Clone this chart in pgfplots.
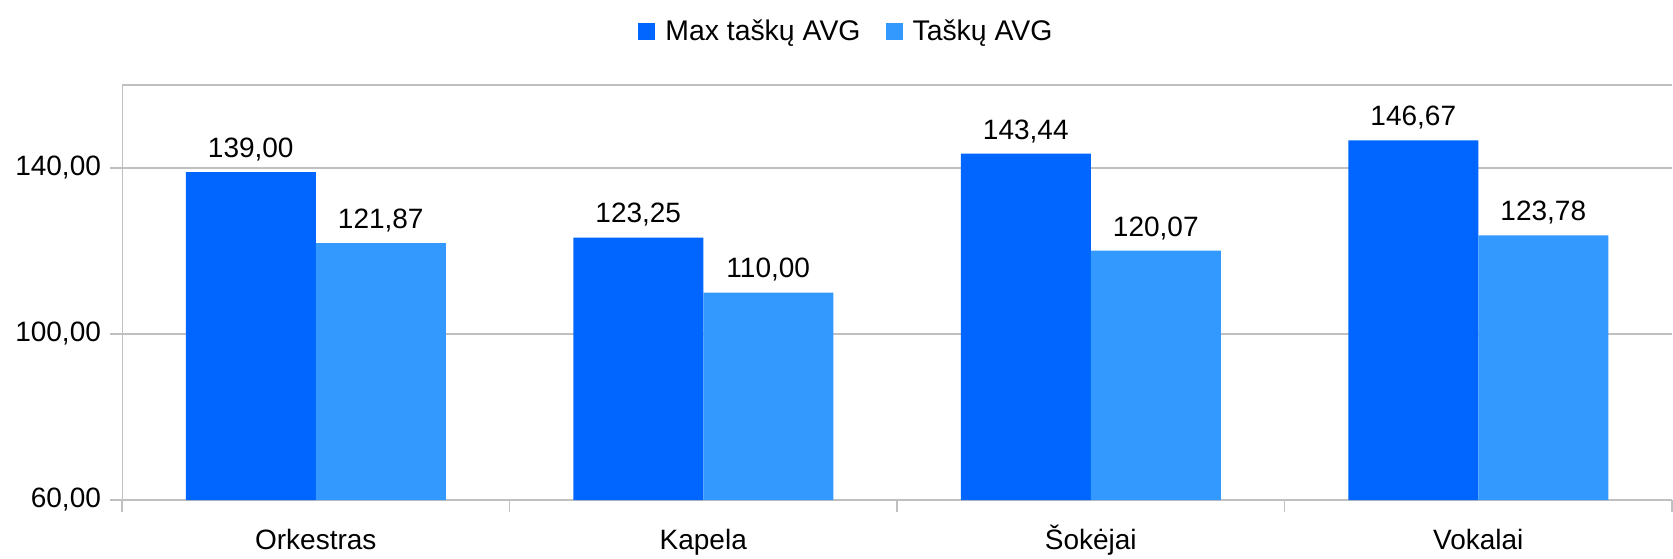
\documentclass[border=0pt]{standalone}
\usepackage{fontspec}
\setmainfont{Liberation Sans}
\usepackage{pgfplots}
\pgfplotsset{compat=1.18}
\definecolor{darkb}{HTML}{0066FF}
\definecolor{lightb}{HTML}{3399FF}
\definecolor{gridc}{HTML}{C0C0C0}
\begin{document}
\begin{tikzpicture}
\begin{axis}[
 at={(0,0)}, anchor=south west,
 scale only axis, width=775pt, height=207.5pt,
 xmin=-0.5, xmax=3.5, ymin=60, ymax=160,
 ybar=0pt, bar width=65pt,
 xtick={-0.5,0.5,1.5,2.5,3.5},
 xticklabels={Orkestras,Kapela,Šokėjai,Vokalai},
 x tick label as interval,
 ytick={60,100,140},
 xtick pos=bottom, ytick pos=left,
 ymajorgrids, grid style={gridc, line width=0.75pt},
 tick align=outside, major tick length=6pt,
 tick style={gridc, line width=0.75pt},
 axis line style={draw=none},
 /pgf/number format/.cd, fixed, fixed zerofill, precision=2, use comma, 1000 sep={}, assume math mode=true,
 /pgfplots/.cd,
 ticklabel style={font=\fontsize{14}{16}\selectfont, text=black},
 xticklabel style={yshift=-5pt, text height=10pt, text depth=3pt},
 yticklabel style={xshift=-1pt},
 nodes near coords,
 every node near coord/.append style={font=\fontsize{14}{16}\selectfont, text=black, anchor=south, yshift=2pt},
 legend style={at={(0.468,1.128)}, anchor=center, draw=none, legend columns=2,
   font=\fontsize{14.2}{16}\selectfont,
   /tikz/every even column/.append style={column sep=10.5pt},
   /tikz/every odd column/.append style={column sep=3pt}},
]
\addplot[fill=darkb, draw=none, legend image code/.code={\fill[darkb] (0pt,-4.25pt) rectangle (8.5pt,4.25pt);}]
 coordinates {(0,139.00) (1,123.25) (2,143.44) (3,146.67)};
\addlegendentry{Max taškų AVG}
\addplot[fill=lightb, draw=none, legend image code/.code={\fill[lightb] (0pt,-4.25pt) rectangle (8.5pt,4.25pt);}]
 coordinates {(0,121.87) (1,110.00) (2,120.07) (3,123.78)};
\addlegendentry{Taškų AVG}
\draw[gridc, line width=0.75pt] (rel axis cs:0,0) -- (rel axis cs:0,1) -- (rel axis cs:1,1);
\end{axis}
\pgfresetboundingbox
\path (-61pt,-29pt) rectangle (775.5pt,250pt);
\end{tikzpicture}
\end{document}
